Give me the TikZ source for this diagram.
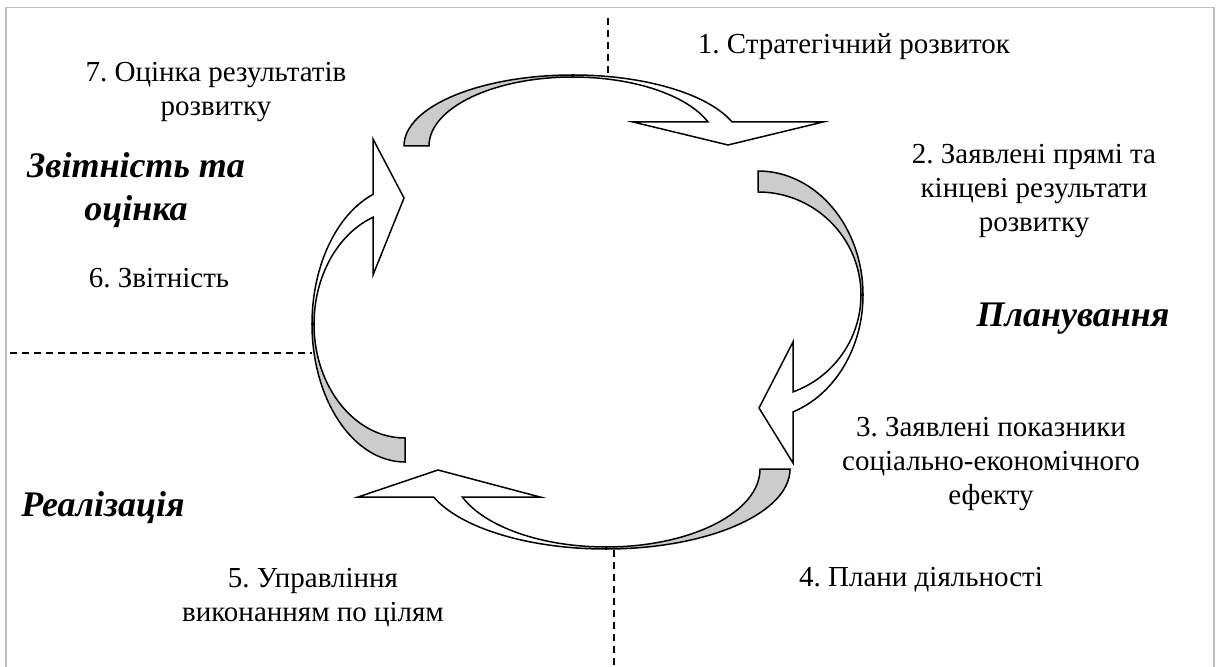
\documentclass[tikz,border=0pt]{standalone}
\usepackage{fontspec}
\setmainfont{Liberation Serif}
\usepackage{tikz}
\frenchspacing
\tikzset{
  >=latex,
}
\tikzstyle{ribbon}=[draw,line width=.75pt,line join=miter]
\tikzstyle{back}=[ribbon,fill=black!20]
\tikzstyle{front}=[ribbon,fill=white]
\tikzstyle{stage}=[align=center,anchor=base,inner sep=0pt,font=\fontsize{14.5}{17}\selectfont]
\tikzstyle{phase}=[stage,font=\fontsize{18}{21.5}\selectfont\bfseries\itshape]
\tikzstyle{divider}=[line width=.6pt,dash pattern=on 3.5pt off 2.5pt]

\begin{document}
\begin{tikzpicture}[x=.5pt,y=-.5pt]
  \useasboundingbox (0,0) rectangle (1219,667);
  \draw[black!25,line width=.75pt] (6,667)--(6,7.5)--(1214,7.5)--(1214,667);
  % quadrant dividers
  \draw[divider] (608,18)--(608,74);
  \draw[divider] (10,353)--(312,353);
  \draw[divider] (614,550)--(614,667);
  % top arrow
  \draw[back] (404,146) arc[start angle=180,end angle=270,x radius=169,y radius=71]
    --(573,77) arc[start angle=270,end angle=180,x radius=144,y radius=69]--cycle;
  \draw[front] (573,75) arc[start angle=270,end angle=340.2,x radius=169,y radius=71]
    --(823,122)--(728,145)--(633,122)--(708,122)
    arc[start angle=339.6,end angle=270,x radius=144,y radius=69]--cycle;
  % right arrow
  \draw[back] (758,171) arc[start angle=270,end angle=360,x radius=105,y radius=124]
    --(861,295) arc[start angle=360,end angle=270,x radius=103,y radius=103]--cycle;
  \draw[front] (863,295) arc[start angle=0,end angle=70.5,x radius=105,y radius=124]
    --(793,463)--(759,408)--(793,342)--(793,391.9)
    arc[start angle=70.1,end angle=0,x radius=103,y radius=103]--cycle;
  % bottom arrow
  \draw[back] (790,469) arc[start angle=0,end angle=90,x radius=184,y radius=80]
    --(606,547) arc[start angle=90,end angle=0,x radius=154,y radius=78]--cycle;
  \draw[front] (606,549) arc[start angle=90,end angle=159.5,x radius=184,y radius=80]
    --(358,497)--(438,470)--(540,497)--(462.3,497)
    arc[start angle=158.96,end angle=90,x radius=154,y radius=78]--cycle;
  % left arrow
  \draw[back] (405,462) arc[start angle=90,end angle=180,x radius=93,y radius=138]
    --(314,324) arc[start angle=180,end angle=90,x radius=91,y radius=114]--cycle;
  \draw[front] (312,324) arc[start angle=180,end angle=249.9,x radius=93,y radius=138]
    --(373,139)--(404,198)--(373,275)--(373,217.3)
    arc[start angle=249.4,end angle=180,x radius=91,y radius=114]--cycle;
  % labels (base = last line)
  \node[stage] (s1) at (854,54) {1. Стратегічний розвиток};
  \node[stage] (s2) at (1034,232) {2. Заявлені прямі та\\кінцеві результати\\розвитку};
  \node[phase] (plan) at (1073,327) {Планування};
  \node[stage] (s3) at (991,504) {3. Заявлені показники\\соціально-економічного\\ефекту};
  \node[stage] (s4) at (921,586) {4. Плани діяльності};
  \node[stage] (s5) at (313,621) {5. Управління\\виконанням по цілям};
  \node[phase] (impl) at (103,516) {Реалізація};
  \node[stage] (s6) at (159,288) {6. Звітність};
  \node[phase] (report) at (136,221) {Звітність та\\оцінка};
  \node[stage] (s7) at (216,116) {7. Оцінка результатів\\розвитку};
\end{tikzpicture}
\end{document}
